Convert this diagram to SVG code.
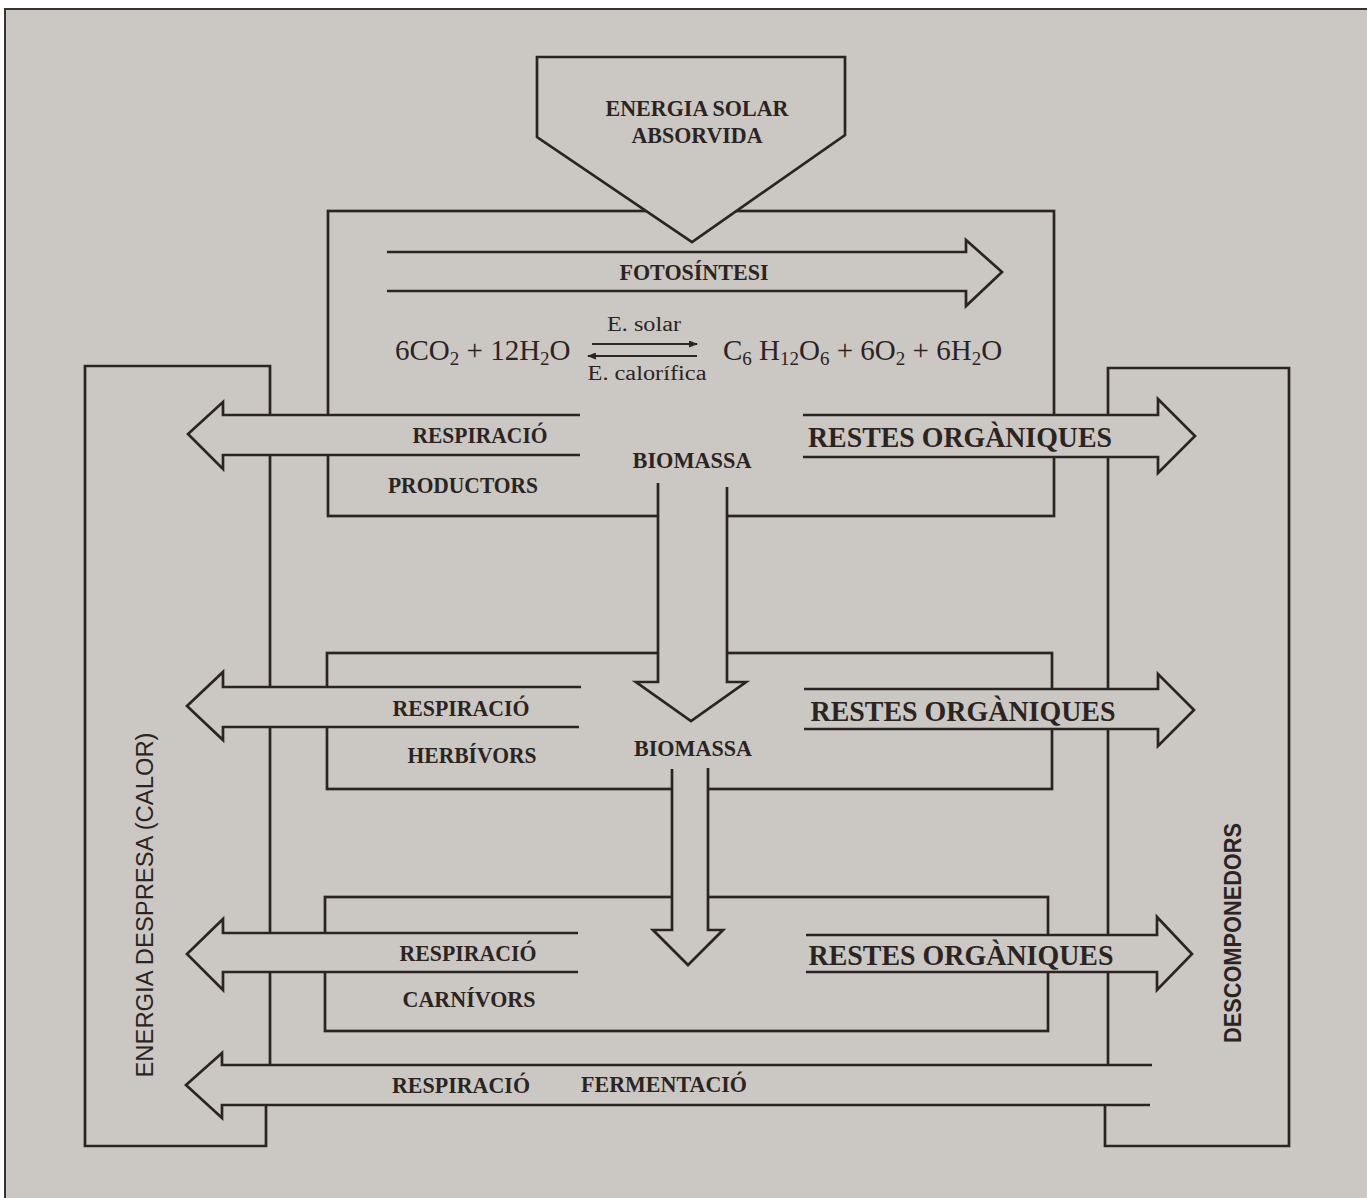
<svg xmlns="http://www.w3.org/2000/svg" width="1367" height="1198" viewBox="0 0 1367 1198">
<defs>
<style>
.ln{fill:none;stroke:#2b2422;stroke-width:2.7;stroke-linejoin:miter}
.ar{fill:#cbc8c3;stroke:#2b2422;stroke-width:2.7;stroke-linejoin:miter}
.lb{font-family:"Liberation Serif",serif;font-weight:bold;fill:#2b2422;text-anchor:middle}
.rg{font-family:"Liberation Serif",serif;fill:#2b2422}
.sn{font-family:"Liberation Sans",sans-serif;fill:#2b2422;text-anchor:middle}
</style>
<marker id="hd" viewBox="0 0 9 7" refX="8" refY="3.5" markerWidth="9" markerHeight="7" markerUnits="userSpaceOnUse" orient="auto">
<path d="M0,0 L9,3.5 L0,7 z" fill="#2b2422"/>
</marker>
</defs>
<rect x="0" y="0" width="1367" height="1198" fill="#ffffff"/>
<rect x="5" y="9" width="1362" height="1189" fill="#cbc8c3"/>
<path d="M5,1198 V9 H1367" fill="none" stroke="#3a3431" stroke-width="2"/>

<g id="energia-despresa">
<path class="ln" d="M270,1070 V366 H85 V1146 H266 V1100"/>
<text class="sn" font-size="23" textLength="345" lengthAdjust="spacingAndGlyphs" transform="translate(153,905) rotate(-90)">ENERGIA DESPRESA (CALOR)</text>
</g>
<g id="descomponedors">
<path class="ln" d="M1108,1070 V368 H1289 V1146 H1105 V1100"/>
<text class="sn" font-size="24" font-weight="bold" textLength="220" lengthAdjust="spacingAndGlyphs" transform="translate(1241,933) rotate(-90)">DESCOMPONEDORS</text>
</g>
<g id="productors">
<rect class="ln" x="328" y="211" width="726" height="305"/>
</g>
<g id="herbivors">
<rect class="ln" x="327" y="653" width="725" height="136"/>
</g>
<g id="carnivors">
<rect class="ln" x="325" y="897" width="723" height="134"/>
</g>

<g id="connectors">
<path class="ar" d="M387,252 H966 V240 L1002,272 L966,306 V291 H387"/>
<path class="ar" d="M580,415 H223 V402 L188,434 L223,469 V455 H580"/>
<path class="ar" d="M581,687 H223 V672 L187,706 L223,740 V727 H579"/>
<path class="ar" d="M578,933 H223 V919 L187,954 L223,990 V972 H578"/>
<path class="ar" d="M1152,1065 H222 V1053 L186,1085 L222,1118 V1105 H1150"/>
<path class="ar" d="M803,415 H1158 V399 L1195,436 L1158,473 V457 H803"/>
<path class="ar" d="M804,689 H1158 V674 L1194,710 L1158,746 V729 H804"/>
<path class="ar" d="M806,935 H1157 V917 L1192,954 L1157,990 V972 H806"/>
<path class="ar" d="M658,483 V682 H636 L691,721 L746,682 H727 V487"/>
<path class="ar" d="M672,769 V930 H653 L688,965 L723,930 H708 V768"/>
<line x1="592" y1="344" x2="697" y2="344" stroke="#2b2422" stroke-width="2" marker-end="url(#hd)"/>
<line x1="697" y1="356" x2="588" y2="356" stroke="#2b2422" stroke-width="2" marker-end="url(#hd)"/>
</g>

<g id="energia-solar">
<path class="ar" d="M537,57 H845 V135 L692,242 L537,137 Z"/>
<text class="lb" font-size="24" x="697" y="116" textLength="183" lengthAdjust="spacingAndGlyphs">ENERGIA SOLAR</text>
<text class="lb" font-size="24" x="697" y="143" textLength="131" lengthAdjust="spacingAndGlyphs">ABSORVIDA</text>
</g>

<g id="labels">
<text class="lb" font-size="23" x="694" y="280" textLength="149" lengthAdjust="spacingAndGlyphs">FOTOSÍNTESI</text>
<text class="rg" font-size="20" x="644" y="331" text-anchor="middle" textLength="74" lengthAdjust="spacingAndGlyphs">E. solar</text>
<text class="rg" font-size="20" x="647" y="380" text-anchor="middle" textLength="119" lengthAdjust="spacingAndGlyphs">E. calorífica</text>
<text class="rg" font-size="29" x="395" y="360">6CO<tspan font-size="19" dy="5">2</tspan><tspan dy="-5"> + 12H</tspan><tspan font-size="19" dy="5">2</tspan><tspan dy="-5">O</tspan></text>
<text class="rg" font-size="29" x="723" y="360">C<tspan font-size="19" dy="5">6</tspan><tspan dy="-5"> H</tspan><tspan font-size="19" dy="5">12</tspan><tspan dy="-5">O</tspan><tspan font-size="19" dy="5">6</tspan><tspan dy="-5"> + 6O</tspan><tspan font-size="19" dy="5">2</tspan><tspan dy="-5"> + 6H</tspan><tspan font-size="19" dy="5">2</tspan><tspan dy="-5">O</tspan></text>

<text class="lb" font-size="24" x="480" y="443" textLength="135" lengthAdjust="spacingAndGlyphs">RESPIRACIÓ</text>
<text class="lb" font-size="24" x="463" y="493" textLength="150" lengthAdjust="spacingAndGlyphs">PRODUCTORS</text>
<text class="lb" font-size="24" x="692" y="468" textLength="119" lengthAdjust="spacingAndGlyphs">BIOMASSA</text>
<text class="lb" font-size="30" x="960" y="447" textLength="304" lengthAdjust="spacingAndGlyphs">RESTES ORGÀNIQUES</text>

<text class="lb" font-size="24" x="461" y="716" textLength="137" lengthAdjust="spacingAndGlyphs">RESPIRACIÓ</text>
<text class="lb" font-size="24" x="472" y="763" textLength="129" lengthAdjust="spacingAndGlyphs">HERBÍVORS</text>
<text class="lb" font-size="24" x="693" y="756" textLength="118" lengthAdjust="spacingAndGlyphs">BIOMASSA</text>
<text class="lb" font-size="30" x="963" y="721" textLength="305" lengthAdjust="spacingAndGlyphs">RESTES ORGÀNIQUES</text>

<text class="lb" font-size="24" x="468" y="961" textLength="137" lengthAdjust="spacingAndGlyphs">RESPIRACIÓ</text>
<text class="lb" font-size="24" x="469" y="1007" textLength="133" lengthAdjust="spacingAndGlyphs">CARNÍVORS</text>
<text class="lb" font-size="30" x="961" y="965" textLength="305" lengthAdjust="spacingAndGlyphs">RESTES ORGÀNIQUES</text>

<text class="lb" font-size="23" x="461" y="1093" textLength="138" lengthAdjust="spacingAndGlyphs">RESPIRACIÓ</text>
<text class="lb" font-size="23" x="664" y="1092" textLength="166" lengthAdjust="spacingAndGlyphs">FERMENTACIÓ</text>
</g>
</svg>
